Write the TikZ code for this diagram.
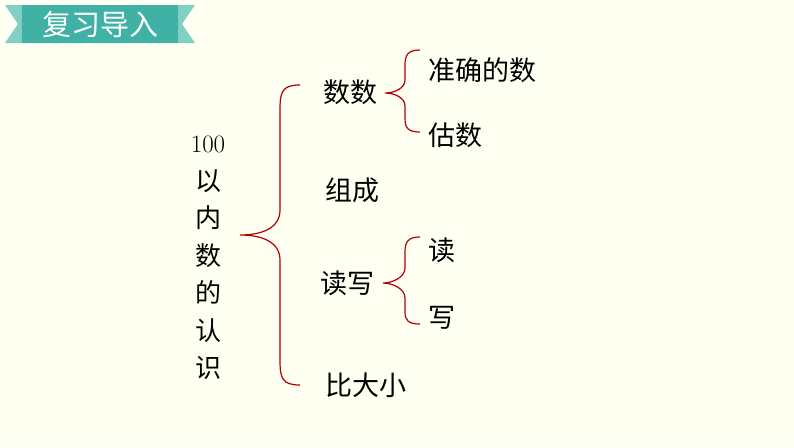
\documentclass[tikz,border=0pt]{standalone}
\usepackage{fontspec}
\newfontfamily\cjk{Noto Sans CJK SC}
\definecolor{bgc}{RGB}{255,255,242}
\definecolor{tealL}{RGB}{130,208,196}
\definecolor{tealD}{RGB}{64,178,165}
\begin{document}
\begin{tikzpicture}[x=1pt,y=-1pt,
  txt/.style={font=\cjk\fontsize{27}{27}\selectfont,inner sep=0pt,anchor=west},
  br/.style={draw=red!70!black,line width=1.2pt}]
\fill[bgc] (0,0) rectangle (794,447);
\useasboundingbox (0,0) rectangle (794,447);
\fill[tealL] (5,5) -- (195,5) -- (182,24) -- (195,43) -- (5,43) -- (18,24) -- cycle;
\fill[tealD] (22,5) rectangle (178,43);
\node[font=\cjk\fontsize{29}{29}\selectfont,text=white,inner sep=0pt] (hd) at (100,24) {复习导入};
% main label
\node[align=center,font=\cjk\fontsize{26}{37.5}\selectfont,inner sep=0pt] (main) at (208,258)
 {{\rmfamily\fontsize{25}{25}\selectfont 100}\\以\\内\\数\\的\\认\\识};
\coordinate (bt) at (300,85); \coordinate (bb) at (300,385); \coordinate (btip) at (240,235);
\draw[br] (bt) .. controls (282,85) and (280,92) .. (280,110) -- (280,210) .. controls (280,228) and (262,235) .. (btip)
 .. controls (262,235) and (280,242) .. (280,260) -- (280,360) .. controls (280,378) and (282,385) .. (bb);
\node[txt] (ss) at (323,92) {数数};
\node[txt] (zq) at (428,70) {准确的数};
\node[txt] (gs) at (428,135) {估数};
\node[txt] (zc) at (325,190) {组成};
\node[txt] (dx) at (320,283) {读写};
\node[txt] (d) at (428,250) {读};
\node[txt] (x) at (428,318) {写};
\node[txt] (bd) at (325,385) {比大小};
\draw[br] (420,50) .. controls (408,50) and (405,55) .. (405,65) -- (405,80) .. controls (405,88) and (395,93) .. (385,93)
 .. controls (395,93) and (405,98) .. (405,106) -- (405,118) .. controls (405,128) and (408,132) .. (420,132);
\draw[br] (420,237) .. controls (408,237) and (405,242) .. (405,252) -- (405,268) .. controls (405,277) and (393,283) .. (383,283)
 .. controls (393,283) and (405,289) .. (405,298) -- (405,312) .. controls (405,320) and (408,324) .. (420,324);
\end{tikzpicture}
\end{document}
